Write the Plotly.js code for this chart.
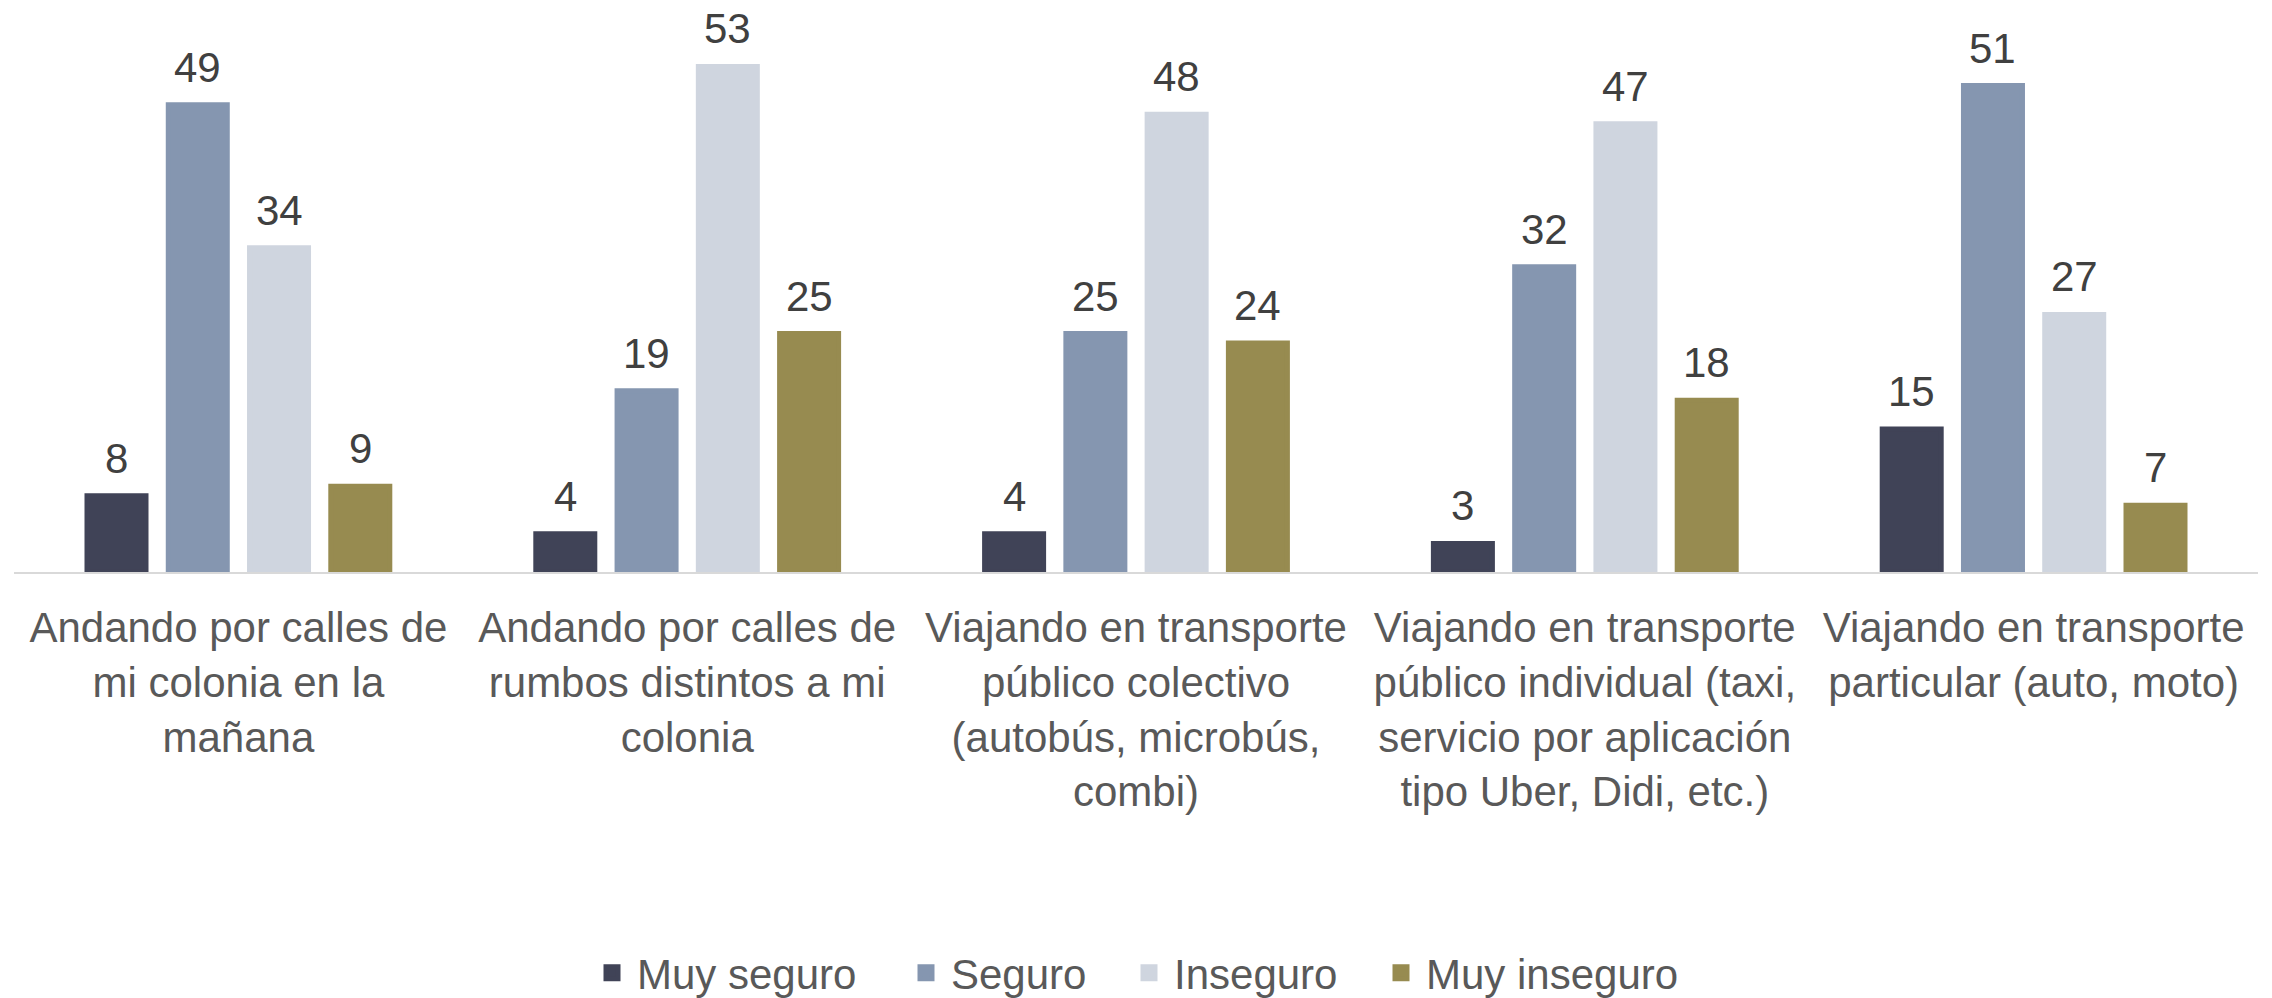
<!DOCTYPE html>
<html>
<head>
<meta charset="utf-8">
<script src="https://cdn.plot.ly/plotly-3.0.1.min.js"></script>
<style>html,body{margin:0;padding:0;background:#fff;}#chart{width:2272px;height:998px;}</style>
</head>
<body>
<div id="chart"></div>
<script>
const categories = [
  "Andando por calles de<br>mi colonia en la<br>mañana",
  "Andando por calles de<br>rumbos distintos a mi<br>colonia",
  "Viajando en transporte<br>público colectivo<br>(autobús, microbús,<br>combi)",
  "Viajando en transporte<br>público individual (taxi,<br>servicio por aplicación<br>tipo Uber, Didi, etc.)",
  "Viajando en transporte<br>particular (auto, moto)"
];
const seriesNames = ["Muy seguro", "Seguro", "Inseguro", "Muy inseguro"];
const muySeguro   = [8, 4, 4, 3, 15];
const seguro      = [49, 19, 25, 32, 51];
const inseguro    = [34, 53, 48, 47, 27];
const muyInseguro = [9, 25, 24, 18, 7];
const colors = ["#404357", "#8596b0", "#cfd5df", "#978b50"];

const FONT = '"Liberation Sans", Arial, sans-serif';
const values = [muySeguro, seguro, inseguro, muyInseguro];
const legendIds = ['legend', 'legend2', 'legend3', 'legend4'];
const BARGAP = 0.2757;
const BARGROUPGAP = 0.274;
const nSeries = values.length;
const slot = (1 - BARGAP) / nSeries;

const traces = values.map((v, i) => ({
  type: 'bar',
  name: seriesNames[i],
  legend: legendIds[i],
  x: categories,
  y: v,
  marker: {color: colors[i], line: {color: colors[i], width: 5}},
  hoverinfo: 'none'
}));

// value labels placed over each bar via the axes' data coordinates
const annotations = [];
values.forEach((v, j) => {
  v.forEach((val, i) => {
    annotations.push({
      xref: 'x', yref: 'y',
      x: i + (j - (nSeries - 1) / 2) * slot,
      y: val,
      text: String(val),
      showarrow: false,
      xanchor: 'center', yanchor: 'bottom',
      yshift: 12,
      font: {family: FONT, size: 42, color: '#404040'}
    });
  });
});

const W = 2272, H = 998, ML = 14, MR = 14, MB = 426;
const plotW = W - ML - MR, plotH = H - MB;
const legendLeftPx = [587, 901, 1124, 1376];
const legendBottomPx = 1007;

const layout = {
  width: W, height: H,
  margin: {l: ML, r: MR, t: 0, b: MB, autoexpand: false},
  paper_bgcolor: '#fff', plot_bgcolor: '#fff',
  barmode: 'group',
  bargap: BARGAP,
  bargroupgap: BARGROUPGAP,
  font: {family: FONT, color: '#595959', size: 42},
  xaxis: {
    showline: true, linecolor: '#d9d9d9', linewidth: 2,
    ticks: '', showgrid: false, zeroline: false,
    tickfont: {family: FONT, size: 42, color: '#595959'},
    ticklabelstandoff: 18,
    automargin: false
  },
  yaxis: {
    range: [0, 59.97], visible: false, showgrid: false, zeroline: false, fixedrange: true
  },
  showlegend: true,
  annotations: annotations
};
legendIds.forEach((id, i) => {
  layout[id] = {
    orientation: 'h',
    x: (legendLeftPx[i] - ML) / plotW, xanchor: 'left',
    y: (plotH - legendBottomPx) / plotH, yanchor: 'bottom',
    font: {family: FONT, size: 42, color: '#595959'},
    itemwidth: 40, bgcolor: 'rgba(0,0,0,0)', borderwidth: 0
  };
});

Plotly.newPlot('chart', traces, layout, {displayModeBar: false, staticPlot: true});
</script>
</body>
</html>
